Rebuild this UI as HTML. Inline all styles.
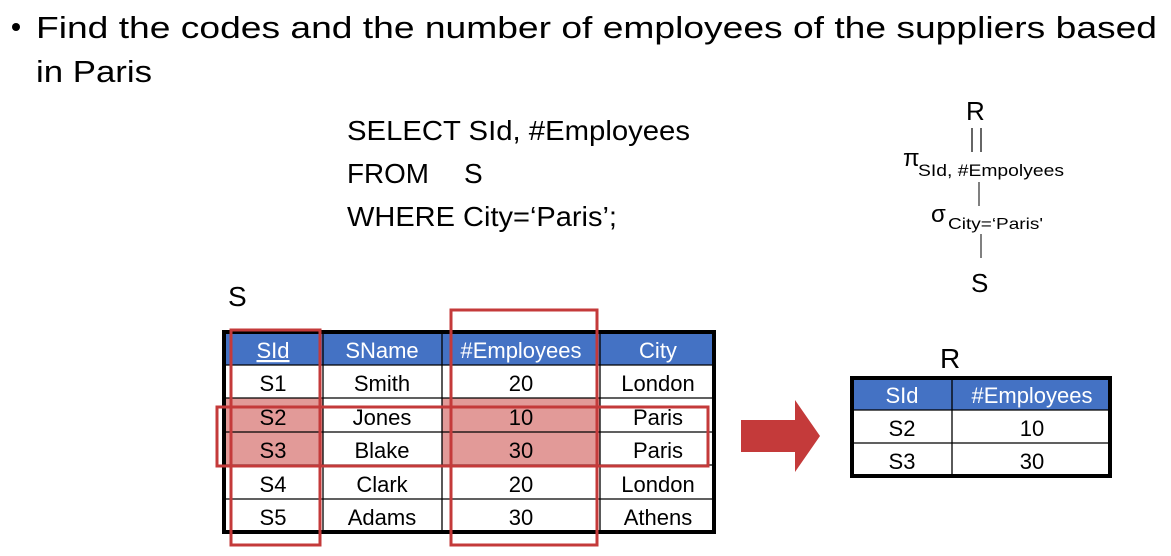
<!DOCTYPE html>
<html><head><meta charset="utf-8"><style>
html,body{margin:0;padding:0;background:#fff;}
svg{display:block;font-family:"Liberation Sans","DejaVu Sans",sans-serif;}
</style></head><body>
<svg width="1171" height="556" viewBox="0 0 1171 556">
<g font-size="31" fill="#000">
<circle cx="16" cy="27" r="4" fill="#000"/>
<text x="36" y="38" textLength="1121" lengthAdjust="spacingAndGlyphs">Find the codes and the number of employees of the suppliers based</text>
<text x="36" y="82" textLength="116" lengthAdjust="spacingAndGlyphs">in Paris</text>
</g>
<g font-size="28" fill="#000">
<text x="347" y="140" textLength="343" lengthAdjust="spacingAndGlyphs">SELECT SId, #Employees</text>
<text x="347" y="183" textLength="82" lengthAdjust="spacingAndGlyphs">FROM</text>
<text x="464" y="183">S</text>
<text x="347" y="226" textLength="270" lengthAdjust="spacingAndGlyphs">WHERE City=‘Paris’;</text>
</g>
<g fill="#000">
<text x="966" y="120" font-size="26">R</text>
<line x1="972" y1="128" x2="972" y2="152" stroke="#000" stroke-width="1.2"/>
<line x1="981" y1="128" x2="981" y2="152" stroke="#000" stroke-width="1.2"/>
<text x="903" y="166" font-size="24">π</text>
<text x="918" y="176" font-size="17" textLength="146" lengthAdjust="spacingAndGlyphs">SId, #Empolyees</text>
<line x1="979" y1="182" x2="979" y2="206" stroke="#555" stroke-width="1.5"/>
<text x="931" y="222" font-size="24">σ</text>
<text x="948" y="229" font-size="16" textLength="95" lengthAdjust="spacingAndGlyphs">City=‘Paris'</text>
<line x1="981" y1="234" x2="981" y2="258" stroke="#000" stroke-width="1"/>
<text x="971" y="292" font-size="26">S</text>
</g>
<text x="228" y="306" font-size="28">S</text>
<g font-size="22" text-anchor="middle">
<rect x="222" y="331" width="494" height="34" fill="#4472C4"/>
<rect x="224" y="398" width="99" height="67" fill="#E29A98"/>
<rect x="442" y="398" width="158" height="67" fill="#E29A98"/>
<g stroke="#000" stroke-width="1.3">
<line x1="222" y1="365" x2="716" y2="365"/><line x1="222" y1="398" x2="716" y2="398"/>
<line x1="222" y1="432" x2="716" y2="432"/><line x1="222" y1="465" x2="716" y2="465"/>
<line x1="222" y1="499" x2="716" y2="499"/>
<line x1="323" y1="331" x2="323" y2="533"/><line x1="442" y1="331" x2="442" y2="533"/><line x1="600" y1="331" x2="600" y2="533"/>
</g>
<rect x="224" y="332" width="490" height="200" fill="none" stroke="#000" stroke-width="4"/>
<g fill="#fff">
<text x="273" y="358" text-decoration="underline">SId</text><text x="382" y="358">SName</text><text x="521" y="358">#Employees</text><text x="658" y="358">City</text>
</g>
<g fill="#000">
<text x="273" y="391">S1</text><text x="382" y="391">Smith</text><text x="521" y="391">20</text><text x="658" y="391">London</text>
<text x="273" y="425">S2</text><text x="382" y="425">Jones</text><text x="521" y="425">10</text><text x="658" y="425">Paris</text>
<text x="273" y="458">S3</text><text x="382" y="458">Blake</text><text x="521" y="458">30</text><text x="658" y="458">Paris</text>
<text x="273" y="492">S4</text><text x="382" y="492">Clark</text><text x="521" y="492">20</text><text x="658" y="492">London</text>
<text x="273" y="525">S5</text><text x="382" y="525">Adams</text><text x="521" y="525">30</text><text x="658" y="525">Athens</text>
</g>
</g>
<g fill="none" stroke="#C43A3A" stroke-width="3">
<rect x="231" y="330" width="89" height="215"/>
<rect x="451" y="310" width="146" height="235"/>
<rect x="217" y="407" width="491" height="59"/>
</g>
<path d="M741 420 H795 V400 L820 436 L795 472 V452 H741 Z" fill="#C43A3A"/>
<text x="940" y="368" font-size="28">R</text>
<g font-size="22" text-anchor="middle">
<rect x="850" y="377" width="262" height="33" fill="#4472C4"/>
<g stroke="#000" stroke-width="1.3">
<line x1="850" y1="410" x2="1112" y2="410"/><line x1="850" y1="443" x2="1112" y2="443"/>
<line x1="952" y1="377" x2="952" y2="478"/>
</g>
<rect x="852" y="378" width="258" height="98" fill="none" stroke="#000" stroke-width="4"/>
<text x="902" y="403" fill="#fff">SId</text><text x="1032" y="403" fill="#fff">#Employees</text>
<text x="902" y="436">S2</text><text x="1032" y="436">10</text>
<text x="902" y="469">S3</text><text x="1032" y="469">30</text>
</g>
</svg>
</body></html>
